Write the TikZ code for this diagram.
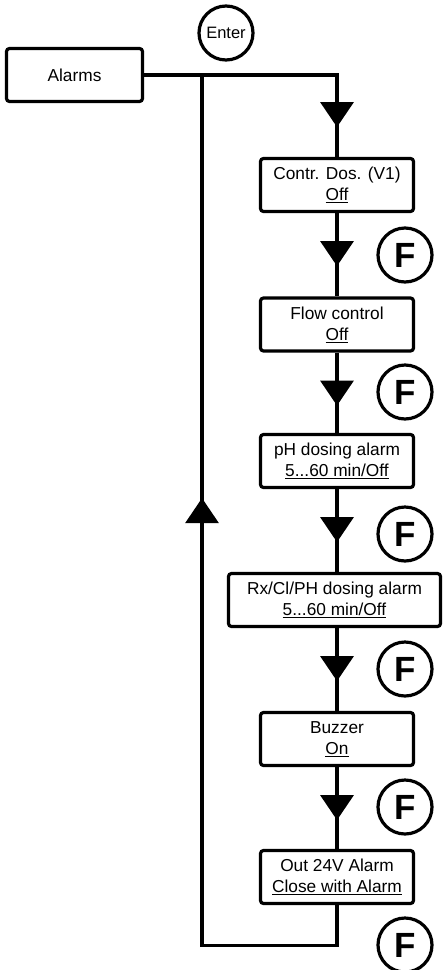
\documentclass[tikz,border=0pt]{standalone}
\usepackage{fontspec}
\setmainfont{Liberation Sans}
\usetikzlibrary{arrows.meta,decorations.markings}
\begin{document}
\begin{tikzpicture}[x=1pt,y=-1pt,
  box/.style={draw,line width=3.2pt,rounded corners=3pt,minimum height=53pt,
    minimum width=153pt,align=center,inner sep=0pt,
    font=\fontsize{17.3}{21}\selectfont},
  circ/.style={circle,draw,line width=3.2pt,minimum size=54pt,inner sep=0pt,
    font=\fontsize{16.5}{18}\selectfont},
  fcirc/.style={circle,draw,line width=3.2pt,minimum size=54pt,inner sep=0pt,
    font=\fontsize{35}{35}\selectfont\bfseries},
  flow/.style={draw,line width=3.2pt},
  tri/.style={postaction={decorate,decoration={markings,
    mark=at position #1 with {\arrow{Triangle[width=33pt,length=25pt]}}}}}
]
\useasboundingbox (0,0) rectangle (444,970);

\node[box,minimum width=136pt] (alarms) at (74.5,75) {Alarms};
\node[circ] (enter) at (226,33) {Enter};

\node[box] (c1) at (337,185) {Contr. Dos. (V1)\\\underline{Off}};
\node[box] (c2) at (337,324.5) {Flow control\\\underline{Off}};
\node[box] (c3) at (337,461) {pH dosing alarm\\\underline{5...60 min/Off}};
\node[box,minimum width=212pt] (c4) at (334.5,600) {Rx/Cl/PH dosing alarm\\\underline{5...60 min/Off}};
\node[box] (c5) at (337,739) {Buzzer\\\underline{On}};
\node[box] (c6) at (337,877) {Out 24V Alarm\\\underline{Close with Alarm}};

\node[fcirc] (f1) at (405,255) {F};
\node[fcirc] (f2) at (405,392) {F};
\node[fcirc] (f3) at (405,534) {F};
\node[fcirc] (f4) at (405,669) {F};
\node[fcirc] (f5) at (405,807) {F};
\node[fcirc] (f6) at (405,945) {F};

\coordinate (j) at (202,75);

\draw[flow,tri=245pt] (alarms.east) -| (c1.north);
\draw[flow,tri=53pt] (c1.south) -- (c1.south |- c2.north);
\draw[flow,tri=53pt] (c2.south) -- (c2.south |- c3.north);
\draw[flow,tri=53pt] (c3.south) -- (c3.south |- c4.north);
\draw[flow,tri=53pt] (c4.south -| c5.south) -- (c5.north);
\draw[flow,tri=53pt] (c5.south) -- (c5.north |- c6.north);
\draw[flow,tri=622pt] (c6.south) -- ++(0,40) -| (j);
\end{tikzpicture}
\end{document}
